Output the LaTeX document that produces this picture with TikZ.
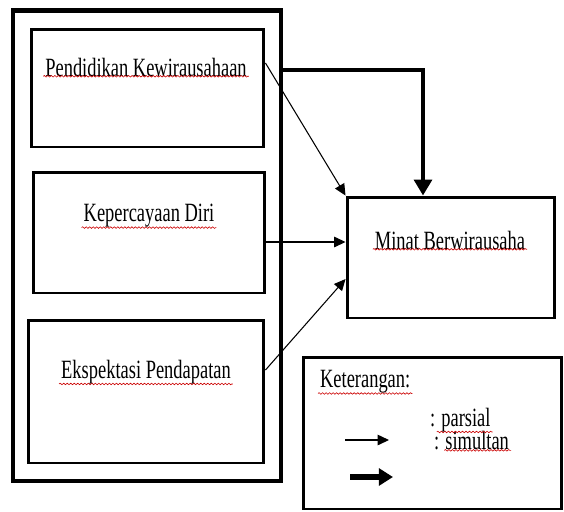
\documentclass[tikz,border=0pt]{standalone}
\usepackage{fontspec}
\setmainfont{Liberation Serif}
\usetikzlibrary{arrows.meta,decorations.pathmorphing}
\newcommand{\cond}[1]{\scalebox{0.7}[1]{\fontsize{15pt}{18pt}\selectfont #1}}
\tikzset{
  frame/.style={draw, line width=2.8pt, inner sep=0pt},
  box/.style={draw, line width=1.7pt, inner sep=0pt, fill=white},
  lbl/.style={inner sep=1pt, font=\fontsize{15pt}{18pt}\selectfont},
  thinarr/.style={line width=0.6pt, -{Triangle[length=6.5pt,width=6pt]}},
  thickarr/.style={line width=2.8pt, -{Triangle[length=9pt,width=10pt]}},
  legthick/.style={line width=3.6pt, -{Triangle[length=8pt,width=9.5pt]}},
  squig/.style={red!80!black, line width=0.35pt, decorate, decoration={snake, amplitude=0.45pt, segment length=2pt}}
}
\begin{document}
\begin{tikzpicture}[x=0.02cm, y=-0.02cm]
\useasboundingbox (0,0) rectangle (564,511);
% outer frame
\node[frame, minimum width=5.36cm, minimum height=9.42cm] (outer) at (147,245.5) {};
% boxes
\node[box, minimum width=4.66cm, minimum height=2.36cm] (b1) at (147.5,88) {};
\node[box, minimum width=4.64cm, minimum height=2.42cm] (b2) at (149,232.5) {};
\node[box, minimum width=4.72cm, minimum height=2.86cm] (b3) at (146,391.5) {};
\node[box, minimum width=4.16cm, minimum height=2.42cm] (minat) at (451,257.5) {};
\node[box, minimum width=5.18cm, minimum height=3.04cm] (leg) at (432.5,433) {};
% texts
\node[lbl] (t1) at (146,67) {\cond{Pendidikan Kewirausahaan}};
\node[lbl] (t2) at (149,216) {\cond{Kepercayaan Diri}};
\node[lbl] (t3) at (146,372) {\cond{Ekspektasi Pendapatan}};
\node[lbl] (t4) at (450,240) {\cond{Minat Berwirausaha}};
\node[lbl, anchor=west] (k1) at (318,382) {\cond{Keterangan:}};
\node[lbl, anchor=west] (k2) at (428,420) {\cond{: parsial}};
\node[lbl, anchor=west] (k3) at (432,441) {\cond{: simultan}};
% squiggles
\foreach \n in {t1,t2,t3,t4,k1}{
  \draw[squig] ([yshift=1.2pt]\n.south west) -- ([yshift=1.2pt]\n.south east);
}
\draw[squig] ([xshift=5pt,yshift=1.2pt]k2.south west) -- ([yshift=1.2pt]k2.south east);
\draw[squig] ([xshift=7pt,yshift=1.2pt]k3.south west) -- ([yshift=1.2pt]k3.south east);
% connectors
\draw[thickarr] (outer.east |- 0,70) -| (423,0 |- minat.north);
\draw[thinarr] (b1.east |- 0,63) -- (minat.north west);
\draw[thinarr] (b2.east |- 0,242) -- (minat.west |- 0,242);
\draw[thinarr] (b3.east |- 0,370) -- (minat.west |- 0,279);
% legend arrows
\coordinate (la1) at (345,440);
\coordinate (la2) at (389,440);
\coordinate (lb1) at (350,477);
\coordinate (lb2) at (393,477);
\draw[thinarr] (la1) -- (la2);
\draw[legthick] (lb1) -- (lb2);
\end{tikzpicture}
\end{document}
